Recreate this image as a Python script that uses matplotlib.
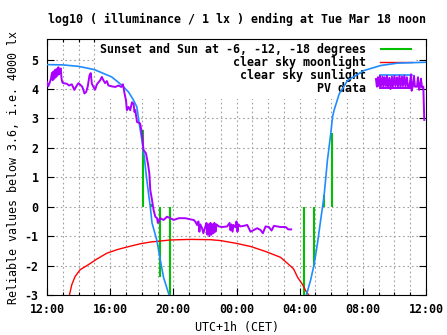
#!/usr/bin/env python3
"""log10 illuminance over 24 h (gnuplot-style recreation)."""

import matplotlib
matplotlib.use("Agg")
import matplotlib.pyplot as plt
from matplotlib.ticker import MultipleLocator

plt.rcParams["font.family"] = ["DejaVu Sans Mono"]
plt.rcParams["font.weight"] = "bold"
plt.rcParams["axes.unicode_minus"] = False

# hours since Mon 12:00
TICK_HOURS = [0, 4, 8, 12, 16, 20, 24]
TICK_LABELS = ["12:00", "16:00", "20:00", "00:00", "04:00", "08:00", "12:00"]

# clear sky sunlight, evening and morning
sun_eve_h = [0.0, 1.0, 2.0, 3.0, 4.1, 4.74, 5.16, 5.48, 5.69, 5.84, 6.01, 6.16,
             6.27, 6.40, 6.54, 6.65, 6.96, 7.17, 7.38, 7.70, 7.78]
sun_eve_v = [4.83, 4.82, 4.77, 4.66, 4.41, 4.13, 3.90, 3.62, 3.39, 2.83, 2.26, 1.70,
             1.14, 0.57, 0.0, -0.55, -1.15, -1.8, -2.4, -2.95, -3.1]
sun_morn_h = [16.36, 16.49, 16.70, 16.91, 17.13, 17.33, 17.54, 17.76, 17.97, 18.08,
              18.18, 18.50, 19.03, 20.08, 21.14, 22.20, 24.0]
sun_morn_v = [-3.1, -2.88, -2.48, -1.97, -1.24, -0.45, 0.34, 1.59, 2.49, 3.05,
              3.28, 3.83, 4.29, 4.63, 4.80, 4.88, 4.91]

# clear sky moonlight
moon_h = [1.42, 1.57, 1.78, 2.10, 2.62, 3.15, 3.79, 4.43, 5.06, 5.90, 6.54, 7.81,
          9.08, 10.35, 10.98, 11.94, 12.89, 13.84, 14.79, 15.43, 15.62, 15.87,
          16.19, 16.38, 16.57]
moon_v = [-3.0, -2.65, -2.37, -2.14, -1.97, -1.78, -1.58, -1.46, -1.37, -1.26, -1.20,
          -1.13, -1.11, -1.12, -1.15, -1.24, -1.35, -1.52, -1.72, -2.02, -2.12,
          -2.40, -2.65, -2.85, -3.0]

# sunset/sunrise and Sun at -6, -12, -18 degrees (time, top of marker)
twi_h = [6.07, 6.60, 7.17, 7.81, 16.27, 16.91, 17.54, 18.03]
twi_v = [2.6, 0.1, -2.4, -3.2, -3.2, -2.0, 0.4, 2.5]

# PV data, evening into night
pv_eve_h = [0.0, 0.08, 0.16, 0.25, 0.32, 0.36, 0.41, 0.46, 0.51, 0.55, 0.60, 0.65,
            0.72, 0.76, 0.81, 0.87, 0.92, 0.97, 1.03, 1.25, 1.40, 1.57, 1.73, 1.89,
            1.99, 2.10, 2.24, 2.37, 2.48, 2.58, 2.69, 2.77, 2.84, 2.94, 3.05, 3.16,
            3.37, 3.47, 3.57, 3.68, 3.79, 3.89, 4.11, 4.32, 4.53, 4.70, 4.81, 4.91,
            5.00, 5.06, 5.16, 5.27, 5.38, 5.48, 5.54, 5.59, 5.70, 5.90, 6.01, 6.11,
            6.27, 6.39, 6.48, 6.54, 6.65, 6.75, 6.86, 6.97, 7.02, 7.07, 7.17, 7.38,
            7.60, 7.81, 8.02, 8.34, 8.76, 9.08, 9.29, 9.40, 9.50, 9.59, 9.65, 9.71,
            9.82, 9.90, 10.03, 10.10, 10.16, 10.22, 10.29, 10.35, 10.41, 10.48,
            10.54, 10.60, 10.67, 10.73, 10.88, 11.09, 11.41, 11.56, 11.62, 11.68,
            11.75, 11.81, 11.94, 12.00, 12.06, 12.13, 12.25, 12.46, 12.68, 12.89,
            13.10, 13.31, 13.52, 13.67, 13.84, 14.05, 14.22, 14.37, 14.58, 14.79,
            15.11, 15.28, 15.46]
pv_eve_v = [4.24, 4.09, 4.20, 4.35, 4.55, 4.30, 4.60, 4.35, 4.65, 4.40, 4.68, 4.45,
            4.74, 4.50, 4.60, 4.70, 4.35, 4.23, 4.20, 4.18, 4.12, 4.16, 3.97, 4.12,
            4.20, 4.15, 4.07, 3.85, 3.90, 4.09, 4.46, 4.54, 4.18, 4.07, 3.98, 4.16,
            4.30, 4.41, 4.30, 4.20, 4.27, 4.12, 4.09, 4.07, 4.12, 4.07, 4.16, 3.85,
            3.62, 3.28, 3.39, 3.28, 3.55, 3.50, 3.22, 3.28, 2.88, 2.83, 2.49, 1.93,
            1.81, 1.47, 1.14, 0.57, 0.23, -0.11, -0.34, -0.39, -0.55, -0.51, -0.39,
            -0.45, -0.34, -0.39, -0.45, -0.39, -0.39, -0.43, -0.45, -0.51, -0.62,
            -0.50, -0.85, -0.60, -0.73, -0.90, -0.67, -0.55, -0.95, -0.60, -1.00,
            -0.55, -0.95, -0.60, -0.90, -0.55, -0.85, -0.60, -0.67, -0.69, -0.67,
            -0.55, -0.80, -0.60, -0.85, -0.62, -0.70, -0.50, -0.85, -0.60, -0.67,
            -0.65, -0.62, -0.85, -0.79, -0.73, -0.79, -0.90, -0.67, -0.69, -0.81,
            -0.65, -0.67, -0.69, -0.69, -0.77, -0.77]

# PV data, morning
pv_morn_h = [20.83, 20.89, 20.95, 21.02, 21.08, 21.14, 21.24, 21.30, 21.37, 21.46,
             21.52, 21.59, 21.68, 21.75, 21.84, 21.90, 22.00, 22.06, 22.16, 22.22,
             22.32, 22.38, 22.48, 22.54, 22.63, 22.70, 22.79, 22.86, 22.95, 23.05,
             23.09, 23.17, 23.24, 23.30, 23.43, 23.49, 23.56, 23.62, 23.68, 23.75,
             23.83, 23.89]
pv_morn_v = [4.34, 4.08, 4.40, 4.10, 4.45, 4.08, 4.42, 4.05, 4.40, 4.10, 4.45, 4.08,
             4.38, 4.00, 4.42, 4.08, 4.45, 4.10, 4.40, 4.08, 4.45, 4.05, 4.42, 4.10,
             4.45, 4.08, 4.40, 4.08, 4.08, 4.50, 3.94, 4.10, 4.45, 4.08, 4.08, 4.40,
             3.97, 4.08, 4.35, 4.05, 4.08, 2.95]

GREEN = "#00c000"
RED = "#ff0000"
BLUE = "#1e8cff"
PURPLE = "#aa00ff"

fig = plt.figure(figsize=(4.47, 3.35), dpi=100)
ax = fig.add_axes([47 / 447, 1 - 295 / 335, 379 / 447, 256 / 335])

ax.vlines(twi_h, 0, twi_v, color=GREEN, lw=1.5, zorder=3,
          label="Sunset and Sun at -6, -12, -18 degrees")
ax.plot(moon_h, moon_v, color=RED, lw=1.0, zorder=3, label="clear sky moonlight")
ax.plot(sun_eve_h, sun_eve_v, color=BLUE, lw=1.2, zorder=3, label="clear sky sunlight")
ax.plot(sun_morn_h, sun_morn_v, color=BLUE, lw=1.2, zorder=3)
ax.plot(pv_eve_h, pv_eve_v, color=PURPLE, lw=1.4, zorder=4, label="PV data")
ax.plot(pv_morn_h, pv_morn_v, color=PURPLE, lw=1.4, zorder=4)

ax.set_xlim(0, 24)
ax.set_ylim(-3, 5.7)
ax.set_xticks(TICK_HOURS)
ax.set_xticklabels(TICK_LABELS)
ax.xaxis.set_minor_locator(MultipleLocator(1))
ax.yaxis.set_major_locator(MultipleLocator(1))
ax.tick_params(which="both", direction="in", top=True, right=True,
               labelsize=8.4, width=0.8)
ax.tick_params(which="major", length=5, pad=6)
ax.tick_params(which="minor", length=2.5)
ax.set_axisbelow(True)
ax.grid(True, which="both", color="#a0a0a0", lw=0.8, linestyle=(0, (1.5, 2.5)))
for s in ax.spines.values():
    s.set_linewidth(0.8)

ax.set_xlabel("UTC+1h (CET)", fontsize=8.4, labelpad=3)
ax.set_ylabel("Reliable values below 3.6, i.e. 4000 lx", fontsize=8.4, labelpad=3)
fig.text(236.5 / 447, 1 - 19 / 335,
         "log10 ( illuminance / 1 lx ) ending at Tue Mar 18 noon",
         ha="center", va="center", fontsize=8.4, fontweight="bold")

# white box hides the grid behind the key, but the curves stay on top
leg = ax.legend(loc="upper right", bbox_to_anchor=(1 - 10 / 379, 1),
                markerfirst=False, fontsize=8.4,
                handlelength=2.7, handletextpad=1.2, labelspacing=0.0,
                borderaxespad=0.0, borderpad=0.35, fancybox=False,
                framealpha=1.0, edgecolor="none", facecolor="white")
leg.set_zorder(2)

fig.savefig("out.png", dpi=100)
